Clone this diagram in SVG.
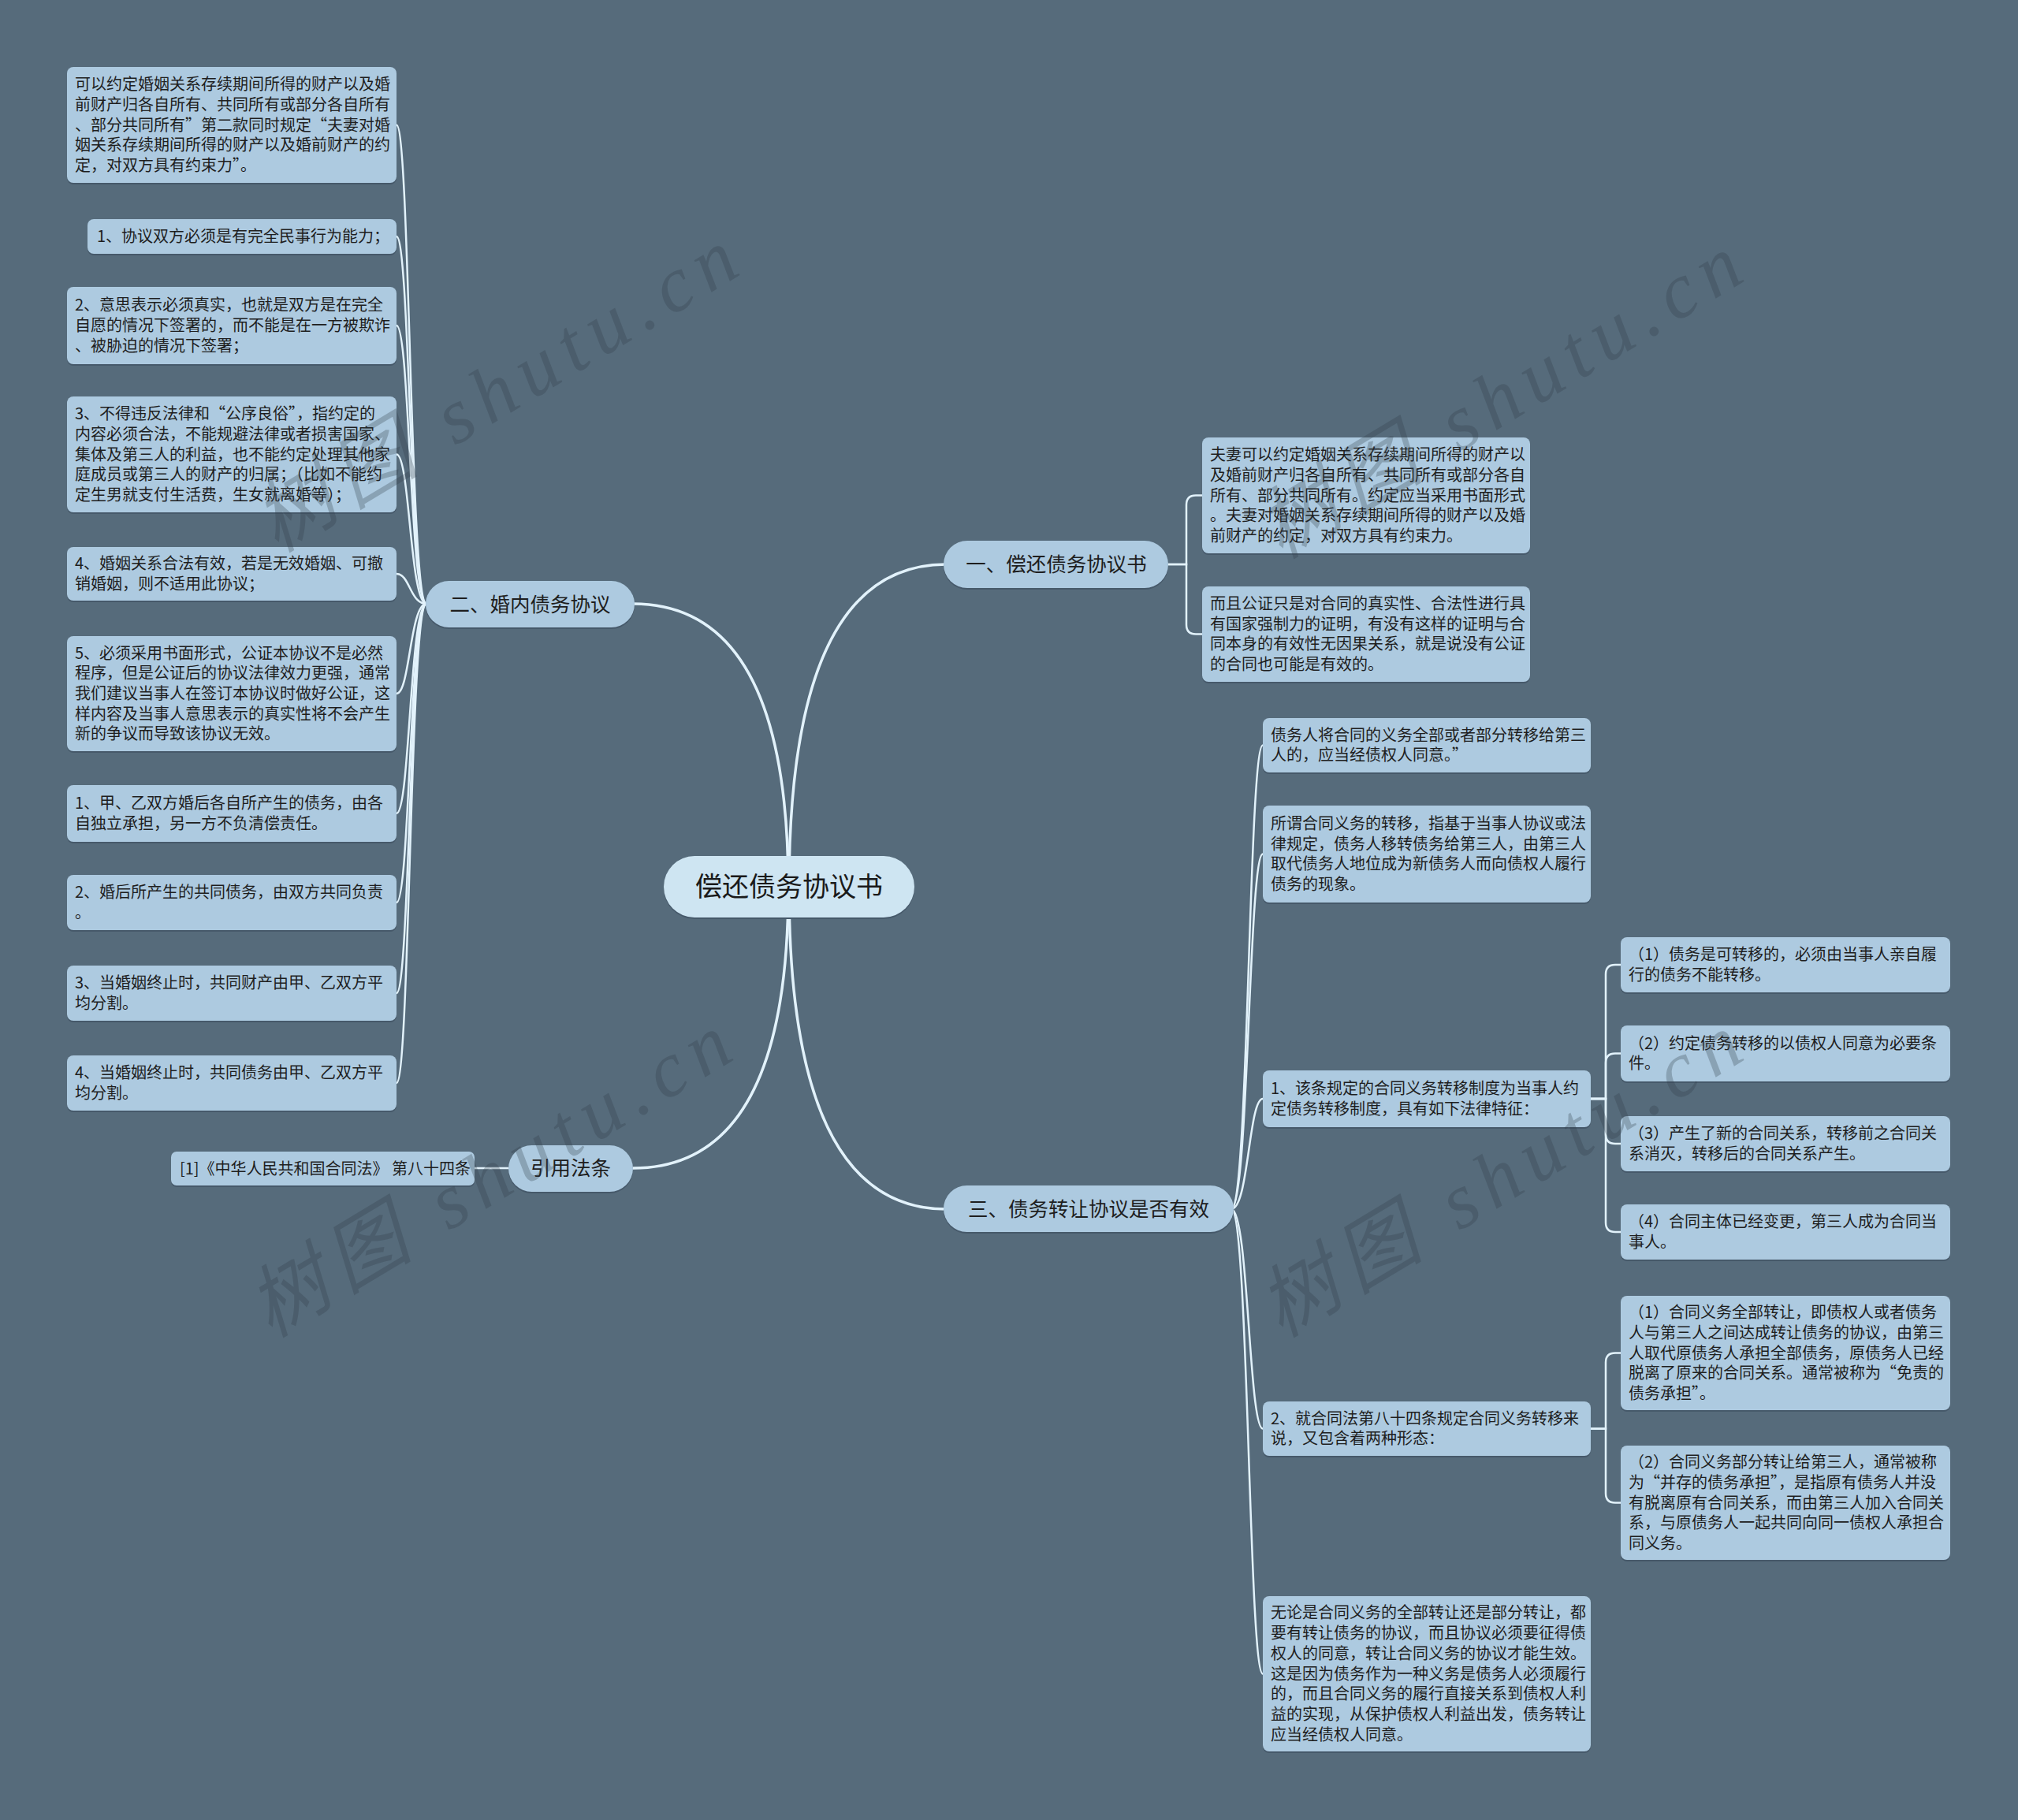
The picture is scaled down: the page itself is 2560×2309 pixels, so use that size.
<svg xmlns="http://www.w3.org/2000/svg" width="2560" height="2309" viewBox="0 0 2560 2309">
<style>
.bg{fill:#566b7b}
.leaf{fill:#adcae0}
.branch{fill:#adcae0}
.root{fill:#cee5f2}
.t{font-family:"Noto Sans CJK SC","Liberation Sans",sans-serif;font-size:20px;fill:#1e1e1e}
.bt{font-family:"Noto Sans CJK SC","Liberation Sans",sans-serif;font-size:25.5px;fill:#1e1e1e;text-anchor:middle}
.rt{font-family:"Noto Sans CJK SC","Liberation Sans",sans-serif;font-size:34px;fill:#1a1a1a;text-anchor:middle}
.link{fill:none;stroke:#e2f2fb;stroke-width:2.5;stroke-linecap:round}
.main{fill:none;stroke:#e2f2fb;stroke-width:3.5;stroke-linecap:round}
.wm{font-family:"Liberation Serif","Noto Sans CJK SC",serif;font-style:italic;font-size:100px;fill:#2f3c47;opacity:0.28}
.sh{fill:#46596a}
</style>
<rect class="bg" x="0" y="0" width="2560" height="2309"/>

<g id="connectors">
  <path class="main" d="M1001,1126 Q1001,716 1200,716"/>
  <path class="main" d="M1001,1126 Q1001,1534 1200,1534"/>
  <path class="main" d="M1000,1126 Q1000,766 803,766"/>
  <path class="main" d="M1000,1126 Q1000,1482 803,1482"/>
  <path class="link" d="M1482,716 H1505 V640.5 Q1505,628.5 1517,628.5 H1525"/>
  <path class="link" d="M1482,716 H1505 V792.5 Q1505,804.5 1517,804.5 H1525"/>
  <path class="link" d="M1562,1534 C1584,1534 1584,945.5 1602,945.5"/>
  <path class="link" d="M1562,1534 C1584,1534 1584,1083.5 1602,1083.5"/>
  <path class="link" d="M1562,1534 C1584,1534 1584,1394 1602,1394"/>
  <path class="link" d="M1562,1534 C1584,1534 1584,1812.5 1602,1812.5"/>
  <path class="link" d="M1562,1534 C1584,1534 1584,2123.5 1602,2123.5"/>
  <path class="link" d="M2018,1394 H2037 V1236 Q2037,1224 2049,1224 H2056"/>
  <path class="link" d="M2018,1394 H2037 V1348.5 Q2037,1336.5 2049,1336.5 H2056"/>
  <path class="link" d="M2018,1394 H2037 V1439 Q2037,1451 2049,1451 H2056"/>
  <path class="link" d="M2018,1394 H2037 V1551 Q2037,1563 2049,1563 H2056"/>
  <path class="link" d="M2018,1812.5 H2037 V1728.5 Q2037,1716.5 2049,1716.5 H2056"/>
  <path class="link" d="M2018,1812.5 H2037 V1894.5 Q2037,1906.5 2049,1906.5 H2056"/>
  <path class="link" d="M541,766 C520,766 520,158.5 503,158.5"/>
  <path class="link" d="M541,766 C520,766 520,300 503,300"/>
  <path class="link" d="M541,766 C520,766 520,413 503,413"/>
  <path class="link" d="M541,766 C520,766 520,576.5 503,576.5"/>
  <path class="link" d="M541,766 C520,766 520,728 503,728"/>
  <path class="link" d="M541,766 C520,766 520,880 503,880"/>
  <path class="link" d="M541,766 C520,766 520,1032 503,1032"/>
  <path class="link" d="M541,766 C520,766 520,1145 503,1145"/>
  <path class="link" d="M541,766 C520,766 520,1260 503,1260"/>
  <path class="link" d="M541,766 C520,766 520,1374 503,1374"/>
  <path class="link" d="M645,1482 H602"/>
</g>

<g id="root">
  <rect class="sh" x="842" y="1088" width="318" height="78" rx="39"/>
  <rect class="root" x="842" y="1086" width="318" height="78" rx="39"/>
  <text class="rt" x="1001" y="1137">偿还债务协议书</text>
</g>

<g id="branch1">
  <rect class="sh" x="1197" y="688" width="285" height="60" rx="30"/>
  <rect class="branch" x="1197" y="686" width="285" height="60" rx="30"/>
  <text class="bt" x="1340" y="725">一、偿还债务协议书</text>
</g>
<g id="branch2">
  <rect class="sh" x="540" y="739" width="265" height="59" rx="29.5"/>
  <rect class="branch" x="540" y="737" width="265" height="59" rx="29.5"/>
  <text class="bt" x="672.5" y="775.5">二、婚内债务协议</text>
</g>
<g id="branch3">
  <rect class="sh" x="1197" y="1506" width="368" height="59" rx="29.5"/>
  <rect class="branch" x="1197" y="1504" width="368" height="59" rx="29.5"/>
  <text class="bt" x="1381" y="1542.5">三、债务转让协议是否有效</text>
</g>
<g id="branch4">
  <rect class="sh" x="645" y="1455" width="158" height="59" rx="29.5"/>
  <rect class="branch" x="645" y="1453" width="158" height="59" rx="29.5"/>
  <text class="bt" x="724" y="1491">引用法条</text>
</g>

<g id="L1">
  <rect class="sh" x="85" y="87" width="418" height="147" rx="8"/>
  <rect class="leaf" x="85" y="85" width="418" height="147" rx="8"/>
  <text class="t"><tspan x="95" y="114.1">可以约定婚姻关系存续期间所得的财产以及婚</tspan><tspan x="95" y="139.8">前财产归各自所有、共同所有或部分各自所有</tspan><tspan x="95" y="165.5">、部分共同所有”第二款同时规定“夫妻对婚</tspan><tspan x="95" y="191.2">姻关系存续期间所得的财产以及婚前财产的约</tspan><tspan x="95" y="216.9">定，对双方具有约束力”。</tspan></text>
</g>
<g id="L2">
  <rect class="sh" x="111" y="280" width="392" height="44" rx="8"/>
  <rect class="leaf" x="111" y="278" width="392" height="44" rx="8"/>
  <text class="t"><tspan x="123" y="307">1、协议双方必须是有完全民事行为能力；</tspan></text>
</g>
<g id="L3">
  <rect class="sh" x="85" y="366" width="418" height="98" rx="8"/>
  <rect class="leaf" x="85" y="364" width="418" height="98" rx="8"/>
  <text class="t"><tspan x="95" y="394.3">2、意思表示必须真实，也就是双方是在完全</tspan><tspan x="95" y="420">自愿的情况下签署的，而不能是在一方被欺诈</tspan><tspan x="95" y="445.7">、被胁迫的情况下签署；</tspan></text>
</g>
<g id="L4">
  <rect class="sh" x="85" y="505" width="418" height="147" rx="8"/>
  <rect class="leaf" x="85" y="503" width="418" height="147" rx="8"/>
  <text class="t"><tspan x="95" y="532.1">3、不得违反法律和“公序良俗”，指约定的</tspan><tspan x="95" y="557.8">内容必须合法，不能规避法律或者损害国家、</tspan><tspan x="95" y="583.5">集体及第三人的利益，也不能约定处理其他家</tspan><tspan x="95" y="609.2">庭成员或第三人的财产的归属；（比如不能约</tspan><tspan x="95" y="634.9">定生男就支付生活费，生女就离婚等）；</tspan></text>
</g>
<g id="L5">
  <rect class="sh" x="85" y="696" width="418" height="68" rx="8"/>
  <rect class="leaf" x="85" y="694" width="418" height="68" rx="8"/>
  <text class="t"><tspan x="95" y="722.2">4、婚姻关系合法有效，若是无效婚姻、可撤</tspan><tspan x="95" y="747.9">销婚姻，则不适用此协议；</tspan></text>
</g>
<g id="L6">
  <rect class="sh" x="85" y="809" width="418" height="146" rx="8"/>
  <rect class="leaf" x="85" y="807" width="418" height="146" rx="8"/>
  <text class="t"><tspan x="95" y="835.6">5、必须采用书面形式，公证本协议不是必然</tspan><tspan x="95" y="861.3">程序，但是公证后的协议法律效力更强，通常</tspan><tspan x="95" y="887">我们建议当事人在签订本协议时做好公证，这</tspan><tspan x="95" y="912.7">样内容及当事人意思表示的真实性将不会产生</tspan><tspan x="95" y="938.4">新的争议而导致该协议无效。</tspan></text>
</g>
<g id="L7">
  <rect class="sh" x="85" y="998" width="418" height="72" rx="8"/>
  <rect class="leaf" x="85" y="996" width="418" height="72" rx="8"/>
  <text class="t"><tspan x="95" y="1026.2">1、甲、乙双方婚后各自所产生的债务，由各</tspan><tspan x="95" y="1051.9">自独立承担，另一方不负清偿责任。</tspan></text>
</g>
<g id="L8">
  <rect class="sh" x="85" y="1112" width="418" height="70" rx="8"/>
  <rect class="leaf" x="85" y="1110" width="418" height="70" rx="8"/>
  <text class="t"><tspan x="95" y="1139.2">2、婚后所产生的共同债务，由双方共同负责</tspan><tspan x="95" y="1164.9">。</tspan></text>
</g>
<g id="L9">
  <rect class="sh" x="85" y="1227" width="418" height="70" rx="8"/>
  <rect class="leaf" x="85" y="1225" width="418" height="70" rx="8"/>
  <text class="t"><tspan x="95" y="1254.2">3、当婚姻终止时，共同财产由甲、乙双方平</tspan><tspan x="95" y="1279.9">均分割。</tspan></text>
</g>
<g id="L10">
  <rect class="sh" x="85" y="1341" width="418" height="70" rx="8"/>
  <rect class="leaf" x="85" y="1339" width="418" height="70" rx="8"/>
  <text class="t"><tspan x="95" y="1368.2">4、当婚姻终止时，共同债务由甲、乙双方平</tspan><tspan x="95" y="1393.9">均分割。</tspan></text>
</g>
<g id="ref">
  <rect class="sh" x="217" y="1463" width="385" height="43" rx="7"/>
  <rect class="leaf" x="217" y="1461" width="385" height="43" rx="7"/>
  <text class="t"><tspan x="228" y="1489.5">[1]《中华人民共和国合同法》 第八十四条</tspan></text>
</g>

<g id="A">
  <rect class="sh" x="1525" y="557" width="416" height="147" rx="8"/>
  <rect class="leaf" x="1525" y="555" width="416" height="147" rx="8"/>
  <text class="t"><tspan x="1535" y="584.1">夫妻可以约定婚姻关系存续期间所得的财产以</tspan><tspan x="1535" y="609.8">及婚前财产归各自所有、共同所有或部分各自</tspan><tspan x="1535" y="635.5">所有、部分共同所有。约定应当采用书面形式</tspan><tspan x="1535" y="661.2">。夫妻对婚姻关系存续期间所得的财产以及婚</tspan><tspan x="1535" y="686.9">前财产的约定，对双方具有约束力。</tspan></text>
</g>
<g id="B">
  <rect class="sh" x="1525" y="746" width="416" height="121" rx="8"/>
  <rect class="leaf" x="1525" y="744" width="416" height="121" rx="8"/>
  <text class="t"><tspan x="1535" y="773">而且公证只是对合同的真实性、合法性进行具</tspan><tspan x="1535" y="798.7">有国家强制力的证明，有没有这样的证明与合</tspan><tspan x="1535" y="824.4">同本身的有效性无因果关系，就是说没有公证</tspan><tspan x="1535" y="850.1">的合同也可能是有效的。</tspan></text>
</g>

<g id="C1">
  <rect class="sh" x="1602" y="913" width="416" height="69" rx="8"/>
  <rect class="leaf" x="1602" y="911" width="416" height="69" rx="8"/>
  <text class="t"><tspan x="1612" y="939.7">债务人将合同的义务全部或者部分转移给第三</tspan><tspan x="1612" y="965.4">人的，应当经债权人同意。”</tspan></text>
</g>
<g id="C2">
  <rect class="sh" x="1602" y="1024" width="416" height="123" rx="8"/>
  <rect class="leaf" x="1602" y="1022" width="416" height="123" rx="8"/>
  <text class="t"><tspan x="1612" y="1052">所谓合同义务的转移，指基于当事人协议或法</tspan><tspan x="1612" y="1077.7">律规定，债务人移转债务给第三人，由第三人</tspan><tspan x="1612" y="1103.4">取代债务人地位成为新债务人而向债权人履行</tspan><tspan x="1612" y="1129.1">债务的现象。</tspan></text>
</g>
<g id="C3">
  <rect class="sh" x="1602" y="1360" width="416" height="72" rx="8"/>
  <rect class="leaf" x="1602" y="1358" width="416" height="72" rx="8"/>
  <text class="t"><tspan x="1612" y="1388.2">1、该条规定的合同义务转移制度为当事人约</tspan><tspan x="1612" y="1413.9">定债务转移制度，具有如下法律特征：</tspan></text>
</g>
<g id="D1">
  <rect class="sh" x="2056" y="1191" width="418" height="70" rx="8"/>
  <rect class="leaf" x="2056" y="1189" width="418" height="70" rx="8"/>
  <text class="t"><tspan x="2066" y="1218.2">（1）债务是可转移的，必须由当事人亲自履</tspan><tspan x="2066" y="1243.9">行的债务不能转移。</tspan></text>
</g>
<g id="D2">
  <rect class="sh" x="2056" y="1303" width="418" height="71" rx="8"/>
  <rect class="leaf" x="2056" y="1301" width="418" height="71" rx="8"/>
  <text class="t"><tspan x="2066" y="1330.7">（2）约定债务转移的以债权人同意为必要条</tspan><tspan x="2066" y="1356.4">件。</tspan></text>
</g>
<g id="D3">
  <rect class="sh" x="2056" y="1418" width="418" height="70" rx="8"/>
  <rect class="leaf" x="2056" y="1416" width="418" height="70" rx="8"/>
  <text class="t"><tspan x="2066" y="1445.2">（3）产生了新的合同关系，转移前之合同关</tspan><tspan x="2066" y="1470.9">系消灭，转移后的合同关系产生。</tspan></text>
</g>
<g id="D4">
  <rect class="sh" x="2056" y="1530" width="418" height="70" rx="8"/>
  <rect class="leaf" x="2056" y="1528" width="418" height="70" rx="8"/>
  <text class="t"><tspan x="2066" y="1557.2">（4）合同主体已经变更，第三人成为合同当</tspan><tspan x="2066" y="1582.9">事人。</tspan></text>
</g>
<g id="C4">
  <rect class="sh" x="1602" y="1780" width="416" height="69" rx="8"/>
  <rect class="leaf" x="1602" y="1778" width="416" height="69" rx="8"/>
  <text class="t"><tspan x="1612" y="1806.7">2、就合同法第八十四条规定合同义务转移来</tspan><tspan x="1612" y="1832.4">说，又包含着两种形态：</tspan></text>
</g>
<g id="E1">
  <rect class="sh" x="2056" y="1646" width="418" height="145" rx="8"/>
  <rect class="leaf" x="2056" y="1644" width="418" height="145" rx="8"/>
  <text class="t"><tspan x="2066" y="1672.1">（1）合同义务全部转让，即债权人或者债务</tspan><tspan x="2066" y="1697.8">人与第三人之间达成转让债务的协议，由第三</tspan><tspan x="2066" y="1723.5">人取代原债务人承担全部债务，原债务人已经</tspan><tspan x="2066" y="1749.2">脱离了原来的合同关系。通常被称为“免责的</tspan><tspan x="2066" y="1774.9">债务承担”。</tspan></text>
</g>
<g id="E2">
  <rect class="sh" x="2056" y="1836" width="418" height="145" rx="8"/>
  <rect class="leaf" x="2056" y="1834" width="418" height="145" rx="8"/>
  <text class="t"><tspan x="2066" y="1862.1">（2）合同义务部分转让给第三人，通常被称</tspan><tspan x="2066" y="1887.8">为“并存的债务承担”，是指原有债务人并没</tspan><tspan x="2066" y="1913.5">有脱离原有合同关系，而由第三人加入合同关</tspan><tspan x="2066" y="1939.2">系，与原债务人一起共同向同一债权人承担合</tspan><tspan x="2066" y="1964.9">同义务。</tspan></text>
</g>
<g id="C5">
  <rect class="sh" x="1602" y="2027" width="416" height="197" rx="8"/>
  <rect class="leaf" x="1602" y="2025" width="416" height="197" rx="8"/>
  <text class="t"><tspan x="1612" y="2053.4">无论是合同义务的全部转让还是部分转让，都</tspan><tspan x="1612" y="2079.1">要有转让债务的协议，而且协议必须要征得债</tspan><tspan x="1612" y="2104.8">权人的同意，转让合同义务的协议才能生效。</tspan><tspan x="1612" y="2130.5">这是因为债务作为一种义务是债务人必须履行</tspan><tspan x="1612" y="2156.2">的，而且合同义务的履行直接关系到债权人利</tspan><tspan x="1612" y="2181.9">益的实现，从保护债权人利益出发，债务转让</tspan><tspan x="1612" y="2207.6">应当经债权人同意。</tspan></text>
</g>

<g id="watermarks">
  <text class="wm" x="351" y="702" transform="rotate(-31 351 702)" textLength="690" lengthAdjust="spacing">树图 shutu.cn</text>
  <text class="wm" x="343" y="1698" transform="rotate(-31 343 1698)" textLength="690" lengthAdjust="spacing">树图 shutu.cn</text>
  <text class="wm" x="1625" y="710" transform="rotate(-31 1625 710)" textLength="690" lengthAdjust="spacing">树图 shutu.cn</text>
  <text class="wm" x="1625" y="1698" transform="rotate(-31 1625 1698)" textLength="690" lengthAdjust="spacing">树图 shutu.cn</text>
</g>
</svg>
